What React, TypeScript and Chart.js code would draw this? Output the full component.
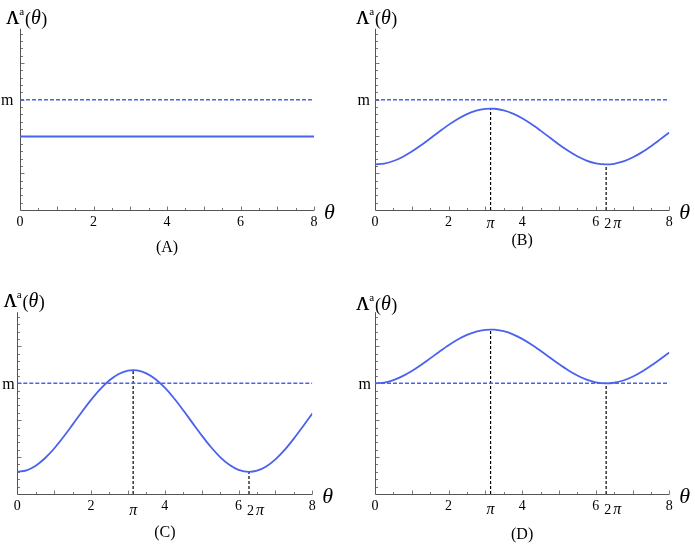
import React, { useEffect, useRef } from "react";
import { Chart, registerables } from "chart.js";

Chart.register(...registerables);

// ---------- data ----------
const THETA_A = [0, 8];
const SERIES_A = [2, 2];
const THETA = [
  0, 0.25, 0.5, 0.75, 1, 1.25, 1.5, 1.75, 2, 2.25, 2.5, 2.75, 3, 3.1416,
  3.25, 3.5, 3.75, 4, 4.25, 4.5, 4.75, 5, 5.25, 5.5, 5.75, 6, 6.2832,
  6.5, 6.75, 7, 7.25, 7.5, 7.75, 8,
];
const SERIES_B = [
  1.24, 1.264, 1.333, 1.444, 1.589, 1.76, 1.946, 2.135, 2.316, 2.477, 2.609, 2.702, 2.752, 2.76,
  2.755, 2.712, 2.624, 2.497, 2.339, 2.16, 1.971, 1.784, 1.611, 1.461, 1.345, 1.27, 1.24,
  1.258, 1.321, 1.427, 1.568, 1.737, 1.921, 2.111,
];
const SERIES_C = [
  0.6, 0.643, 0.769, 0.97, 1.234, 1.545, 1.882, 2.226, 2.554, 2.847, 3.086, 3.256, 3.346, 3.36,
  3.352, 3.272, 3.112, 2.882, 2.596, 2.271, 1.928, 1.589, 1.274, 1.002, 0.792, 0.655, 0.6,
  0.632, 0.748, 0.94, 1.196, 1.502, 1.837, 2.181,
];
const SERIES_D = [
  3.0, 3.023, 3.089, 3.196, 3.336, 3.5, 3.678, 3.86, 4.034, 4.189, 4.315, 4.405, 4.453, 4.46,
  4.456, 4.414, 4.329, 4.207, 4.056, 3.884, 3.703, 3.523, 3.356, 3.213, 3.101, 3.029, 3.0,
  3.017, 3.078, 3.18, 3.315, 3.477, 3.655, 3.836,
];
const M_LEVEL = 3;
const X_MIN = 0;
const X_MAX = 8;
const Y_MAX = 4.93;
const X_TICK_VALUES = [0, 2, 4, 6, 8];
const X_TICK_LABELS = ["0", "2", "4", "6", "8"];
const PI_VALUES = [3.1416, 6.2832];
const PI_LABELS = ["π", "2π"];
const M_LABEL = "m";
const X_AXIS_LABEL = "θ";
const PANEL_LETTERS = ["(A)", "(B)", "(C)", "(D)"];

// ---------- style ----------
const BLUE = "#4a62ee";
const AXIS = "#555555";
const SERIF = '"Liberation Serif", "Times New Roman", serif';

type PanelCfg = {
  letter: string;
  theta: number[];
  values: number[];
  showMarks: boolean;
  box: { left: number; top: number; width: number; height: number };
  pad: { left: number; right: number; top: number; bottom: number };
  titleX: number;
  titleBase: number;
  mGap: number;
  labelBase: number;
  piBase: number;
};

const PANELS: PanelCfg[] = [
  {
    letter: PANEL_LETTERS[0], theta: THETA_A, values: SERIES_A, showMarks: false,
    box: { left: 0, top: 0, width: 345, height: 272 },
    pad: { left: 20, right: 31, top: 28.8, bottom: 62 },
    titleX: 6, titleBase: 24, mGap: 6.5, labelBase: 252, piBase: 19,
  },
  {
    letter: PANEL_LETTERS[1], theta: THETA, values: SERIES_B, showMarks: true,
    box: { left: 345, top: 0, width: 350, height: 272 },
    pad: { left: 30, right: 25.7, top: 28.8, bottom: 62 },
    titleX: 11, titleBase: 24, mGap: 5, labelBase: 245, piBase: 18,
  },
  {
    letter: PANEL_LETTERS[2], theta: THETA, values: SERIES_C, showMarks: true,
    box: { left: 0, top: 272, width: 345, height: 273 },
    pad: { left: 17.3, right: 32.7, top: 40.2, bottom: 51 },
    titleX: 3.5, titleBase: 35, mGap: 2.5, labelBase: 265, piBase: 21,
  },
  {
    letter: PANEL_LETTERS[3], theta: THETA, values: SERIES_D, showMarks: true,
    box: { left: 345, top: 272, width: 350, height: 273 },
    pad: { left: 30, right: 25.7, top: 40.2, bottom: 51 },
    titleX: 11, titleBase: 38, mGap: 4, labelBase: 266.5, piBase: 20,
  },
];

function crisp(v: number) {
  return Math.round(v) + 0.5;
}

function drawTitle(ctx: CanvasRenderingContext2D, x0: number, base: number) {
  let x = x0;
  ctx.textAlign = "left";
  ctx.textBaseline = "alphabetic";
  ctx.fillStyle = "#000";
  ctx.font = `18px ${SERIF}`;
  ctx.fillText("Λ", x, base);
  ctx.fillText("Λ", x + 0.4, base);
  x += ctx.measureText("Λ").width;
  ctx.font = `11px ${SERIF}`;
  ctx.fillText("a", x + 0.3, base - 9.5);
  x += ctx.measureText("a").width + 1;
  ctx.font = `18px ${SERIF}`;
  ctx.fillText("(", x, base + 0.5);
  x += ctx.measureText("(").width;
  ctx.font = `italic 20px ${SERIF}`;
  ctx.fillText("θ", x, base);
  x += ctx.measureText("θ").width + 0.5;
  ctx.font = `18px ${SERIF}`;
  ctx.fillText(")", x, base + 0.5);
}

function makeDecor(cfg: PanelCfg) {
  return {
    id: "decor",
    beforeDatasetsDraw(chart: any) {
      const { ctx } = chart;
      const xs = chart.scales.x;
      const ys = chart.scales.y;
      const xa = crisp(xs.getPixelForValue(X_MIN));
      const xb = xs.getPixelForValue(X_MAX);
      const yb = crisp(ys.getPixelForValue(0));
      const yt = ys.getPixelForValue(Y_MAX);
      ctx.save();
      ctx.strokeStyle = AXIS;
      ctx.lineWidth = 1;
      ctx.beginPath();
      ctx.moveTo(xa, yt);
      ctx.lineTo(xa, yb);
      ctx.lineTo(xb, yb);
      ctx.stroke();
      ctx.lineWidth = 0.8;
      ctx.beginPath();
      for (let i = 1; i <= 16; i++) {
        const v = i * 0.5;
        const px = crisp(xs.getPixelForValue(v));
        const len = i % 2 === 0 ? 4 : 2.5;
        ctx.moveTo(px, yb);
        ctx.lineTo(px, yb - len);
      }
      for (let i = 1; i * 0.2 <= Y_MAX; i++) {
        const v = i * 0.2;
        const py = crisp(ys.getPixelForValue(v));
        const len = i % 5 === 0 ? 4 : 2.5;
        ctx.moveTo(xa, py);
        ctx.lineTo(xa + len, py);
      }
      ctx.stroke();
      ctx.restore();
    },
    afterDraw(chart: any) {
      const { ctx } = chart;
      const xs = chart.scales.x;
      const ys = chart.scales.y;
      const xa = xs.getPixelForValue(X_MIN);
      const xb = xs.getPixelForValue(X_MAX);
      const yb = ys.getPixelForValue(0);
      ctx.save();
      ctx.fillStyle = "#000";
      // tick labels
      ctx.font = `14px ${SERIF}`;
      ctx.textAlign = "center";
      ctx.textBaseline = "alphabetic";
      X_TICK_VALUES.forEach((v, i) => {
        ctx.fillText(X_TICK_LABELS[i], xs.getPixelForValue(v), yb + 16);
      });
      // pi labels
      if (cfg.showMarks) {
        ctx.font = `italic 16px ${SERIF}`;
        ctx.textAlign = "center";
        ctx.fillText(PI_LABELS[0], xs.getPixelForValue(PI_VALUES[0]), yb + cfg.piBase);
        const x2 = xs.getPixelForValue(PI_VALUES[1]) - 2;
        ctx.textAlign = "left";
        ctx.font = `14px ${SERIF}`;
        const two = PI_LABELS[1].slice(0, 1);
        ctx.fillText(two, x2, yb + cfg.piBase);
        const w2 = ctx.measureText(two).width;
        ctx.font = `italic 16px ${SERIF}`;
        ctx.fillText(PI_LABELS[1].slice(1), x2 + w2 + 2, yb + cfg.piBase);
      }
      // m label
      ctx.font = `16px ${SERIF}`;
      ctx.textAlign = "right";
      ctx.textBaseline = "middle";
      ctx.fillText(M_LABEL, xa - cfg.mGap, ys.getPixelForValue(M_LEVEL) + 1);
      // theta axis label
      ctx.font = `italic 22px ${SERIF}`;
      ctx.textAlign = "left";
      ctx.textBaseline = "alphabetic";
      ctx.fillText(X_AXIS_LABEL, xb + 10, yb + 9);
      // panel letter
      ctx.font = `16px ${SERIF}`;
      ctx.textAlign = "center";
      ctx.fillText(cfg.letter, (xa + xb) / 2, cfg.labelBase);
      // y title
      drawTitle(ctx, cfg.titleX, cfg.titleBase);
      ctx.restore();
    },
  };
}

function Panel({ cfg }: { cfg: PanelCfg }) {
  const ref = useRef<HTMLCanvasElement>(null);
  useEffect(() => {
    if (!ref.current) return;
    const datasets: any[] = [
      {
        data: cfg.theta.map((t, i) => ({ x: t, y: cfg.values[i] })),
        borderColor: BLUE,
        borderWidth: 1.8,
        cubicInterpolationMode: "monotone",
        pointRadius: 0,
        fill: false,
      },
      {
        data: [{ x: X_MIN, y: M_LEVEL }, { x: X_MAX, y: M_LEVEL }],
        borderColor: BLUE,
        borderWidth: 1.5,
        borderDash: [4, 2],
        pointRadius: 0,
        fill: false,
      },
    ];
    if (cfg.showMarks) {
      PI_VALUES.forEach((pv) => {
        const idx = cfg.theta.indexOf(pv);
        datasets.push({
          data: [{ x: cfg.theta[idx], y: 0 }, { x: cfg.theta[idx], y: cfg.values[idx] }],
          borderColor: "#000",
          borderWidth: 1.2,
          borderDash: [3, 2],
          pointRadius: 0,
          fill: false,
        });
      });
    }
    const chart = new Chart(ref.current, {
      type: "line",
      data: { datasets },
      options: {
        responsive: false,
        animation: false,
        events: [],
        layout: { padding: cfg.pad },
        plugins: { legend: { display: false }, tooltip: { enabled: false } },
        scales: {
          x: { type: "linear", min: X_MIN, max: X_MAX, display: false },
          y: { type: "linear", min: 0, max: Y_MAX, display: false },
        },
      },
      plugins: [makeDecor(cfg)],
    } as any);
    return () => chart.destroy();
  }, [cfg]);
  return (
    <canvas
      ref={ref}
      width={cfg.box.width}
      height={cfg.box.height}
      style={{
        position: "absolute",
        left: cfg.box.left,
        top: cfg.box.top,
        width: cfg.box.width,
        height: cfg.box.height,
      }}
    />
  );
}

export default function App() {
  return (
    <div
      style={{
        position: "absolute",
        left: 0,
        top: 0,
        width: 695,
        height: 545,
        background: "#fff",
        overflow: "hidden",
      }}
    >
      {PANELS.map((p) => (
        <Panel key={p.letter} cfg={p} />
      ))}
    </div>
  );
}
